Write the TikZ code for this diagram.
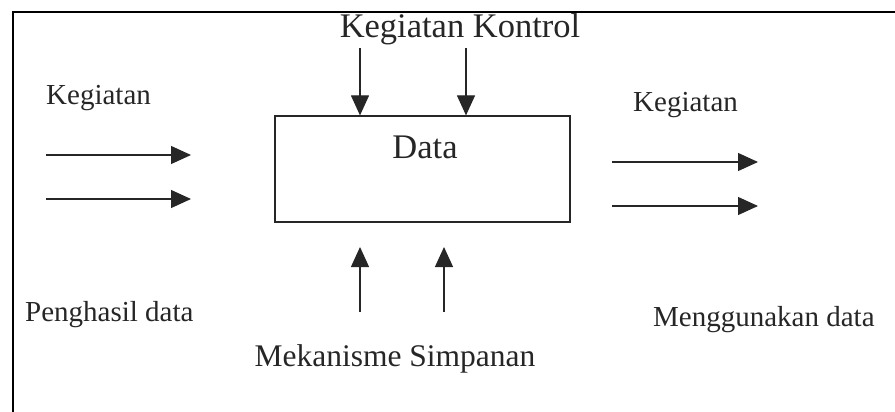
\documentclass[tikz,border=0pt]{standalone}
\usepackage{fontspec}
\setmainfont{Liberation Serif}
\usetikzlibrary{arrows.meta}
\begin{document}
\begin{tikzpicture}[x=1pt,y=-1pt,
  ink/.style={draw=black!85, line width=1.2pt},
  flow/.style={ink, -{Triangle[length=20pt,width=18pt]}},
  procbox/.style={ink, rectangle, minimum width=295pt, minimum height=106pt, inner sep=0pt},
  lbl/.style={inner sep=0pt, text=black!85, font=\fontsize{29}{31}\selectfont},
  biglbl/.style={inner sep=0pt, text=black!85, font=\fontsize{34.5}{37}\selectfont}]
  \useasboundingbox (0,0) rectangle (895,412);
  % page frame
  \draw[line width=2pt] (895,12) -- (13,12) -- (13,412);
  % process box
  \node[procbox] (proc) at (422.5,169) {};
  \node[biglbl] (datalbl) at (425,147) {Data};
  % labels
  \node[biglbl, anchor=base] (ctrl) at (460,38) {Kegiatan Kontrol};
  \node[lbl, anchor=base west] (inlbl) at (46,104) {Kegiatan};
  \node[lbl, anchor=base west] (outlbl) at (633,111) {Kegiatan};
  \node[lbl, anchor=base west] (prod) at (25,321) {Penghasil data};
  \node[lbl, anchor=base west] (cons) at (653,326) {Menggunakan data};
  \node[lbl, anchor=base, font=\fontsize{31.5}{33}\selectfont] (mech) at (395,366) {Mekanisme Simpanan};
  % control arrows
  \coordinate (ct1) at (360,48);
  \coordinate (ct2) at (466,48);
  \draw[flow] (ct1) -- (ct1 |- proc.north);
  \draw[flow] (ct2) -- (ct2 |- proc.north);
  % input arrows
  \coordinate (in1s) at (46,155);  \coordinate (in1e) at (191,155);
  \coordinate (in2s) at (46,199);  \coordinate (in2e) at (191,199);
  \draw[flow] (in1s) -- (in1e);
  \draw[flow] (in2s) -- (in2e);
  % output arrows
  \coordinate (out1s) at (612,162); \coordinate (out1e) at (758,162);
  \coordinate (out2s) at (612,206); \coordinate (out2e) at (758,206);
  \draw[flow] (out1s) -- (out1e);
  \draw[flow] (out2s) -- (out2e);
  % mechanism arrows
  \coordinate (m1s) at (360,312); \coordinate (m1e) at (360,247);
  \coordinate (m2s) at (444,312); \coordinate (m2e) at (444,247);
  \draw[flow] (m1s) -- (m1e);
  \draw[flow] (m2s) -- (m2e);
\end{tikzpicture}
\end{document}
